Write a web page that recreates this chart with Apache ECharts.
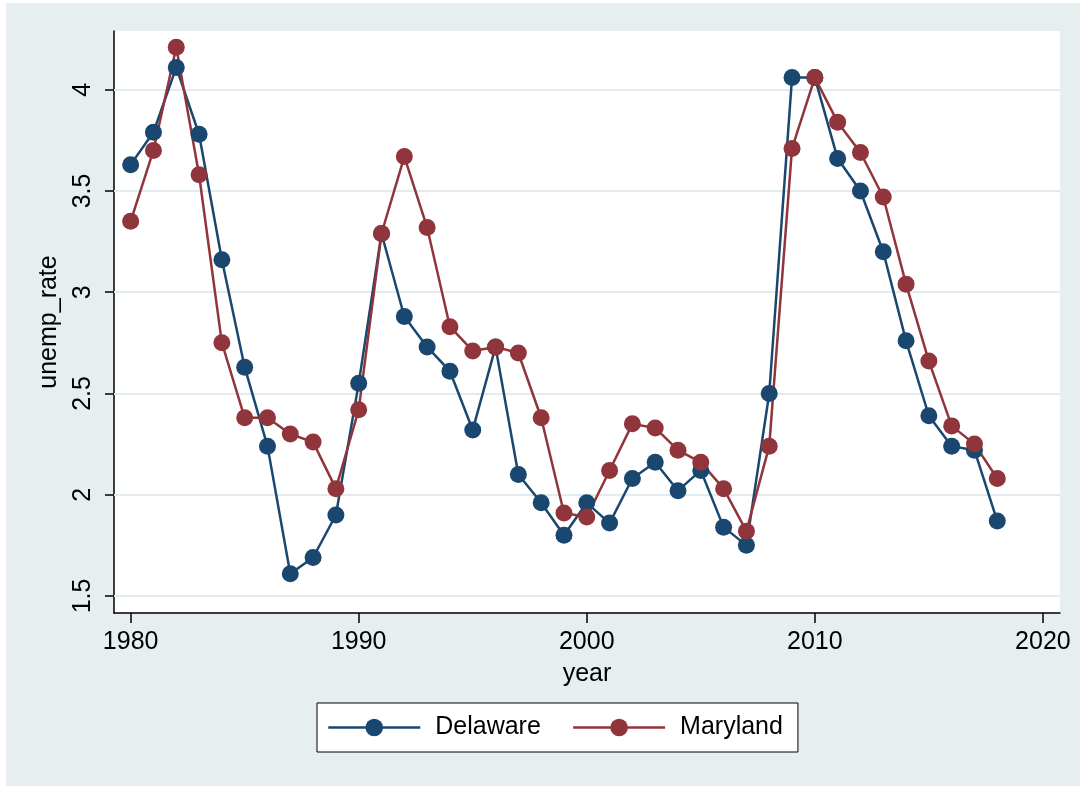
<!DOCTYPE html>
<html lang="en">
  <head>
    <meta charset="UTF-8" />
    <title>unemp_rate by year</title>
    <style>
      body {
        margin: 0;
        background: #fff;
      }
      #container {
        position: absolute;
        left: 0;
        top: 0;
        width: 1085px;
        height: 787px;
      }
    </style>
    <script src="https://cdn.jsdelivr.net/npm/echarts@6.0.0/dist/echarts.min.js"></script>
  </head>
  <body>
    <div id="container"></div>
    <script>
      const years = [
        1980, 1981, 1982, 1983, 1984, 1985, 1986, 1987, 1988, 1989,
        1990, 1991, 1992, 1993, 1994, 1995, 1996, 1997, 1998, 1999,
        2000, 2001, 2002, 2003, 2004, 2005, 2006, 2007, 2008, 2009,
        2010, 2011, 2012, 2013, 2014, 2015, 2016, 2017, 2018,
      ]
      const delaware = [
        3.63, 3.79, 4.11, 3.78, 3.16, 2.63, 2.24, 1.61, 1.69, 1.9,
        2.55, 3.29, 2.88, 2.73, 2.61, 2.32, 2.73, 2.1, 1.96, 1.8,
        1.96, 1.86, 2.08, 2.16, 2.02, 2.12, 1.84, 1.75, 2.5, 4.06,
        4.06, 3.66, 3.5, 3.2, 2.76, 2.39, 2.24, 2.22, 1.87,
      ]
      const maryland = [
        3.35, 3.7, 4.21, 3.58, 2.75, 2.38, 2.38, 2.3, 2.26, 2.03,
        2.42, 3.29, 3.67, 3.32, 2.83, 2.71, 2.73, 2.7, 2.38, 1.91,
        1.89, 2.12, 2.35, 2.33, 2.22, 2.16, 2.03, 1.82, 2.24, 3.71,
        4.06, 3.84, 3.69, 3.47, 3.04, 2.66, 2.34, 2.25, 2.08,
      ]
      const xTicks = [1980, 1990, 2000, 2010, 2020]
      const yTicks = [1.5, 2, 2.5, 3, 3.5, 4]

      const font = '"Liberation Sans", Arial, sans-serif'
      const navy = '#1a476f'
      const maroon = '#90353b'

      const chart = echarts.init(document.getElementById('container'))

      function pairs(vals) {
        return years.map((y, i) => [y, vals[i]])
      }

      function lineSeries(name, vals, color) {
        return {
          name: name,
          type: 'line',
          data: pairs(vals),
          symbol: 'circle',
          symbolSize: 17,
          itemStyle: { color: color },
          lineStyle: { color: color, width: 2.5 },
          emphasis: { disabled: true },
        }
      }

      const options = {
        animation: false,
        backgroundColor: '#fff',
        graphic: {
          elements: [
            {
              type: 'rect',
              left: 6,
              top: 3,
              shape: { width: 1074, height: 783 },
              style: { fill: '#e6eef0' },
              z: -10,
              silent: true,
            },
          ],
        },
        grid: {
          show: true,
          left: 114,
          top: 31,
          right: 25,
          bottom: 174,
          backgroundColor: '#fff',
          borderWidth: 0,
        },
        legend: {
          left: 317,
          top: 703,
          padding: [12, 15, 12, 10],
          borderColor: '#000',
          borderWidth: 1,
          backgroundColor: '#fff',
          itemWidth: 92,
          itemHeight: 22,
          itemGap: 31,
          lineStyle: { width: 2.5 },
          textStyle: {
            fontFamily: font,
            fontSize: 25,
            color: '#000',
            padding: [0, 0, 0, 10],
          },
          data: ['Delaware', 'Maryland'],
        },
        xAxis: {
          type: 'value',
          min: 1979.27,
          max: 2020.75,
          name: 'year',
          nameLocation: 'middle',
          nameGap: 49,
          nameTextStyle: { fontFamily: font, fontSize: 25, color: '#000' },
          axisLine: { lineStyle: { color: '#000', width: 1.5 } },
          axisTick: {
            customValues: xTicks,
            length: 10,
            lineStyle: { color: '#000', width: 1.5 },
          },
          axisLabel: {
            customValues: xTicks,
            margin: 17,
            fontFamily: font,
            fontSize: 25,
            color: '#000',
            formatter: (v) => String(v),
          },
          splitLine: { show: false },
        },
        yAxis: {
          type: 'value',
          min: 1.416,
          max: 4.29,
          name: 'unemp_rate',
          nameLocation: 'middle',
          nameRotate: 90,
          nameGap: 52,
          nameTextStyle: { fontFamily: font, fontSize: 25, color: '#000' },
          axisLine: { show: true, lineStyle: { color: '#000', width: 1.5 } },
          axisTick: {
            show: true,
            customValues: yTicks,
            length: 9,
            lineStyle: { color: '#000', width: 1.5 },
          },
          axisLabel: {
            customValues: yTicks,
            rotate: 90,
            margin: 18,
            fontFamily: font,
            fontSize: 25,
            color: '#000',
          },
          splitLine: { show: false },
        },
        series: [
          Object.assign(lineSeries('Delaware', delaware, navy), {
            markLine: {
              z: 1,
              silent: true,
              symbol: ['none', 'none'],
              label: { show: false },
              lineStyle: { type: 'solid', color: '#e2ebed', width: 2 },
              data: yTicks.map((v) => ({ yAxis: v })),
            },
          }),
          lineSeries('Maryland', maryland, maroon),
        ],
      }

      chart.setOption(options)
    </script>
  </body>
</html>
